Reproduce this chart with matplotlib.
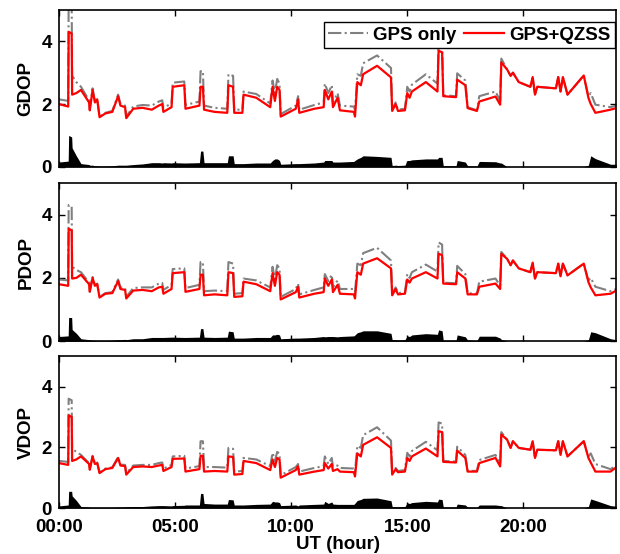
import numpy as np
import matplotlib.pyplot as plt

# Hora UT dos pontos
horas = [0.00, 0.40, 0.42, 0.55, 0.57, 0.75, 0.95, 1.30, 1.33, 1.45,
         1.55, 1.65, 1.75, 2.00, 2.30, 2.55, 2.65, 2.85, 2.90, 3.20,
         3.60, 4.00, 4.30, 4.45, 4.50, 4.85, 4.90, 5.40, 5.45, 6.05,
         6.10, 6.20, 6.25, 6.70, 7.25, 7.30, 7.50, 7.55, 7.90, 7.95,
         8.50, 9.10, 9.20, 9.30, 9.40, 9.50, 9.55, 10.20, 10.30, 10.35,
         11.00, 11.40, 11.45, 11.60, 11.75, 11.80, 12.00, 12.10, 12.70, 12.75,
         12.85, 13.00, 13.10, 13.70, 14.30, 14.35, 14.50, 14.60, 14.90, 15.00,
         15.10, 15.20, 15.80, 16.30, 16.35, 16.50, 16.55, 17.10, 17.15, 17.50,
         17.60, 18.00, 18.10, 18.80, 19.00, 19.05, 19.30, 19.45, 19.55, 19.80,
         20.30, 20.40, 20.50, 20.60, 21.40, 21.50, 21.60, 21.70, 21.90, 22.60,
         22.80, 22.90, 23.10, 23.75, 24.00]

# GDOP
gdop_qzss = [2.00, 1.92, 4.30, 4.25, 2.30, 2.35, 2.45, 2.05, 1.80, 2.45,
             2.05, 2.15, 1.58, 1.70, 1.75, 2.25, 1.95, 1.90, 1.55, 1.85,
             1.88, 1.82, 1.95, 2.00, 1.75, 1.90, 2.55, 2.60, 1.85, 1.95,
             2.55, 2.55, 1.82, 1.75, 1.72, 2.60, 2.55, 1.72, 1.72, 2.30,
             2.20, 1.90, 2.55, 2.10, 2.55, 2.45, 1.60, 1.85, 2.15, 1.72,
             1.85, 1.90, 2.45, 2.15, 2.40, 1.90, 2.20, 1.80, 1.75, 1.60,
             2.70, 2.60, 2.95, 3.22, 2.85, 1.78, 2.00, 1.78, 1.80, 2.35,
             2.20, 2.40, 2.70, 2.40, 3.70, 3.65, 2.25, 2.22, 2.78, 2.60,
             1.87, 1.78, 2.08, 2.24, 1.98, 3.33, 3.10, 2.90, 3.00, 2.70,
             2.55, 2.86, 2.30, 2.55, 2.50, 2.86, 2.40, 2.86, 2.30, 2.91,
             2.20, 2.00, 1.72, 1.82, 1.87]
gdop_gps = [2.15, 2.10, 5.30, 5.20, 2.90, 2.70, 2.55, 2.12, 1.85, 2.50,
            2.08, 2.18, 1.60, 1.72, 1.78, 2.30, 2.00, 1.95, 1.60, 1.92,
            1.97, 1.95, 2.08, 2.12, 1.88, 2.02, 2.68, 2.72, 1.97, 2.08,
            3.05, 3.05, 1.95, 1.88, 1.85, 2.95, 2.90, 1.82, 1.82, 2.40,
            2.32, 2.02, 2.75, 2.35, 2.80, 2.65, 1.68, 1.95, 2.25, 1.82,
            1.97, 2.05, 2.65, 2.35, 2.60, 2.05, 2.35, 1.95, 1.92, 1.80,
            2.95, 2.90, 3.30, 3.55, 3.15, 1.82, 2.05, 1.82, 1.85, 2.55,
            2.40, 2.62, 2.95, 2.65, 4.00, 3.95, 2.28, 2.25, 2.98, 2.75,
            1.90, 1.80, 2.25, 2.40, 2.10, 3.45, 3.10, 2.90, 3.00, 2.70,
            2.55, 2.86, 2.30, 2.55, 2.50, 2.86, 2.40, 2.86, 2.30, 2.91,
            2.25, 2.35, 1.98, 1.90, 1.95]

# PDOP
pdop_qzss = [1.80, 1.75, 3.55, 3.50, 1.98, 2.00, 2.10, 1.80, 1.56, 2.00,
             1.75, 1.80, 1.38, 1.50, 1.52, 1.90, 1.65, 1.62, 1.35, 1.60,
             1.62, 1.58, 1.70, 1.72, 1.50, 1.65, 2.15, 2.18, 1.56, 1.65,
             2.10, 2.10, 1.45, 1.48, 1.45, 2.18, 2.15, 1.40, 1.42, 1.88,
             1.80, 1.58, 2.15, 1.75, 2.18, 2.10, 1.32, 1.55, 1.72, 1.38,
             1.50, 1.55, 1.98, 1.75, 1.95, 1.55, 1.78, 1.50, 1.48, 1.35,
             2.18, 2.10, 2.45, 2.62, 2.30, 1.45, 1.65, 1.48, 1.50, 1.95,
             1.85, 1.98, 2.18, 1.98, 2.76, 2.72, 1.82, 1.80, 2.18, 1.98,
             1.48, 1.48, 1.72, 1.82, 1.65, 2.76, 2.60, 2.40, 2.55, 2.30,
             2.18, 2.48, 1.98, 2.18, 2.15, 2.45, 2.05, 2.45, 2.08, 2.45,
             1.87, 1.70, 1.45, 1.50, 1.60]
pdop_gps = [1.95, 1.92, 4.30, 4.25, 2.35, 2.25, 2.18, 1.85, 1.60, 2.03,
            1.78, 1.82, 1.40, 1.52, 1.55, 1.95, 1.70, 1.68, 1.40, 1.68,
            1.70, 1.70, 1.82, 1.84, 1.62, 1.78, 2.28, 2.30, 1.68, 1.78,
            2.50, 2.50, 1.58, 1.60, 1.58, 2.50, 2.45, 1.50, 1.52, 1.98,
            1.92, 1.70, 2.35, 1.95, 2.40, 2.30, 1.40, 1.65, 1.82, 1.48,
            1.62, 1.70, 2.12, 1.90, 2.10, 1.70, 1.92, 1.65, 1.65, 1.55,
            2.45, 2.40, 2.78, 2.95, 2.55, 1.50, 1.70, 1.52, 1.55, 2.12,
            2.00, 2.18, 2.42, 2.20, 3.12, 3.05, 1.85, 1.83, 2.38, 2.12,
            1.52, 1.50, 1.88, 1.98, 1.75, 2.82, 2.60, 2.40, 2.55, 2.30,
            2.18, 2.48, 1.98, 2.18, 2.15, 2.45, 2.05, 2.45, 2.08, 2.45,
            1.92, 2.00, 1.72, 1.58, 1.65]

# VDOP
vdop_qzss = [1.48, 1.42, 3.05, 3.00, 1.55, 1.60, 1.70, 1.45, 1.26, 1.70,
             1.45, 1.48, 1.15, 1.28, 1.32, 1.65, 1.40, 1.38, 1.10, 1.35,
             1.37, 1.35, 1.40, 1.42, 1.22, 1.35, 1.62, 1.63, 1.20, 1.28,
             1.72, 1.72, 1.20, 1.22, 1.20, 1.70, 1.68, 1.10, 1.12, 1.55,
             1.48, 1.25, 1.60, 1.35, 1.65, 1.60, 1.00, 1.25, 1.38, 1.10,
             1.20, 1.25, 1.48, 1.30, 1.45, 1.22, 1.28, 1.20, 1.18, 1.04,
             1.80, 1.70, 2.08, 2.33, 1.98, 1.10, 1.28, 1.18, 1.20, 1.65,
             1.55, 1.70, 1.96, 1.70, 2.53, 2.50, 1.52, 1.50, 1.89, 1.65,
             1.20, 1.20, 1.48, 1.65, 1.37, 2.42, 2.25, 1.98, 2.20, 1.98,
             1.92, 2.20, 1.65, 1.92, 1.90, 2.20, 1.75, 2.20, 1.70, 2.20,
             1.65, 1.50, 1.20, 1.20, 1.34]
vdop_gps = [1.55, 1.52, 3.60, 3.55, 1.95, 1.85, 1.75, 1.48, 1.28, 1.72,
            1.47, 1.50, 1.17, 1.30, 1.34, 1.68, 1.43, 1.42, 1.14, 1.40,
            1.42, 1.42, 1.48, 1.50, 1.30, 1.42, 1.70, 1.72, 1.30, 1.38,
            2.20, 2.20, 1.35, 1.35, 1.33, 1.98, 1.95, 1.20, 1.22, 1.65,
            1.60, 1.38, 1.82, 1.55, 1.85, 1.78, 1.08, 1.35, 1.45, 1.20,
            1.32, 1.38, 1.70, 1.45, 1.65, 1.35, 1.40, 1.32, 1.30, 1.20,
            2.05, 1.98, 2.40, 2.66, 2.22, 1.15, 1.32, 1.22, 1.25, 1.82,
            1.70, 1.88, 2.18, 1.90, 2.82, 2.78, 1.55, 1.53, 2.02, 1.75,
            1.23, 1.22, 1.58, 1.75, 1.45, 2.50, 2.25, 1.98, 2.20, 1.98,
            1.92, 2.20, 1.65, 1.92, 1.90, 2.20, 1.75, 2.20, 1.70, 2.20,
            1.70, 1.80, 1.45, 1.28, 1.40]

nomes = ["GDOP", "PDOP", "VDOP"]
series_gps = [gdop_gps, pdop_gps, vdop_gps]
series_qzss = [gdop_qzss, pdop_qzss, vdop_qzss]
ticks_x = [0, 5, 10, 15, 20]
rotulos_x = ["00:00", "05:00", "10:00", "15:00", "20:00"]

plt.rcParams['font.family'] = ['Liberation Sans', 'DejaVu Sans']
plt.rcParams['font.weight'] = 'bold'
plt.rcParams['axes.labelweight'] = 'bold'

fig = plt.figure(figsize=(6.2, 5.54), dpi=100)

# posições dos três painéis (em fração da figura)
posicoes = [[0.095, 0.699, 0.899, 0.283],
            [0.095, 0.384, 0.899, 0.286],
            [0.095, 0.083, 0.899, 0.274]]

for i in range(3):
    ax = fig.add_axes(posicoes[i])
    gps = np.array(series_gps[i])
    qzss = np.array(series_qzss[i])

    # melhoria (diferença) preenchida em preto
    ax.fill_between(horas, 0, gps - qzss, color="black", linewidth=0)
    ax.plot(horas, gps, color="gray", linestyle="-.", linewidth=1.5, label="GPS only")
    ax.plot(horas, qzss, color="red", linewidth=1.6, label="GPS+QZSS")

    ax.set_xlim(0, 24)
    ax.set_ylim(0, 5)
    ax.set_yticks([0, 2, 4])
    ax.set_xticks(ticks_x)
    ax.tick_params(direction="in", top=True, right=True, length=4, width=1, labelsize=13.5)
    ax.tick_params(axis="x", pad=8)
    ax.tick_params(axis="y", pad=5)
    ax.set_ylabel(nomes[i], fontsize=13.5, labelpad=5)
    for lado in ax.spines.values():
        lado.set_linewidth(1.2)

    if i == 0:
        ax.legend(loc="upper right", bbox_to_anchor=(0.998, 0.925), borderaxespad=0,
                  ncol=2, fontsize=13.5, frameon=True, fancybox=False, edgecolor="black",
                  framealpha=1, handlelength=2.1, handletextpad=0.3, columnspacing=0.4,
                  borderpad=0.25)

    if i < 2:
        ax.set_xticklabels([])
    else:
        ax.set_xticklabels(rotulos_x)
        ax.set_xlabel("UT (hour)", fontsize=13.5, labelpad=0)

plt.savefig("out.png", dpi=100)
